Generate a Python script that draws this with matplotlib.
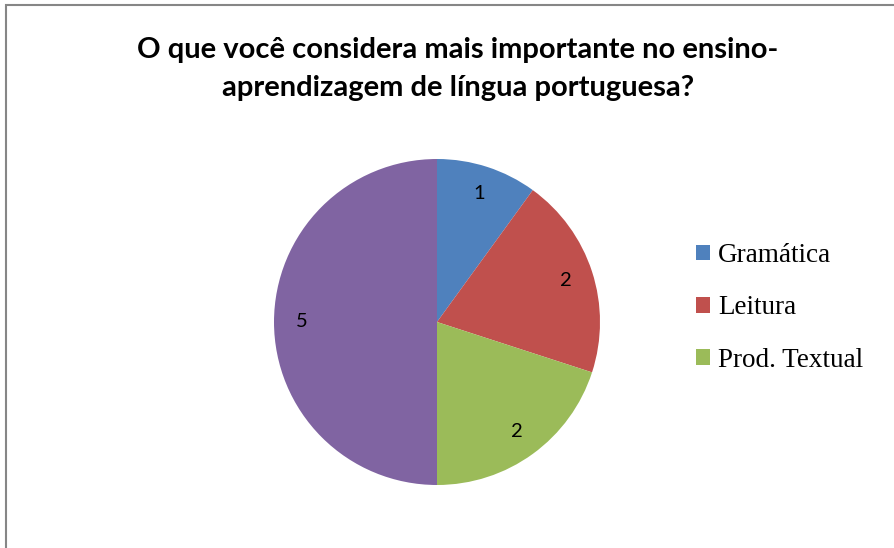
import matplotlib.pyplot as plt
from matplotlib.patches import Rectangle

categorias = ["Gramática", "Leitura", "Prod. Textual", "Outros"]
valores = [1, 2, 2, 5]
cores = ["#4F81BD", "#C0504D", "#9BBB59", "#8064A2"]
titulo = "O que você considera mais importante no ensino-\naprendizagem de língua portuguesa?"

W, H = 895, 548
fig = plt.figure(figsize=(W / 100, H / 100), dpi=100)

# moldura cinza (cortada à direita e embaixo)
fig.patches.append(Rectangle((6 / W, -0.1), 1.2, 1 - 5 / H + 0.1,
                             transform=fig.transFigure, fill=False,
                             edgecolor="#868686", linewidth=1.5))

cx, cy, r = 437, 322, 163
ax = fig.add_axes([(cx - r) / W, (H - cy - r) / H, 2 * r / W, 2 * r / H])
total = sum(valores)
wedges, _, autotexts = ax.pie(
    valores,
    colors=cores,
    startangle=90,
    counterclock=False,
    autopct=lambda p: f"{round(p * total / 100)}",
    pctdistance=0.83,
    textprops=dict(fontsize=14.5, family="Lato", color="black"),
)
ax.set_xlim(-1, 1)
ax.set_ylim(-1, 1)
ax.axis("off")

fig.text(458 / W, 1 - 69 / H, titulo, ha="center", va="center",
         fontsize=21, fontweight="bold", family="Lato", linespacing=1.55)

fig.legend(wedges[:3], categorias[:3], loc="upper left",
           bbox_to_anchor=(672 / W, 1 - 219 / H), frameon=False,
           prop=dict(family="Liberation Serif", size=19.5),
           handlelength=0.5, handleheight=0.5, handletextpad=0.3,
           labelspacing=1.0)

fig.savefig("out.png", dpi=100)
